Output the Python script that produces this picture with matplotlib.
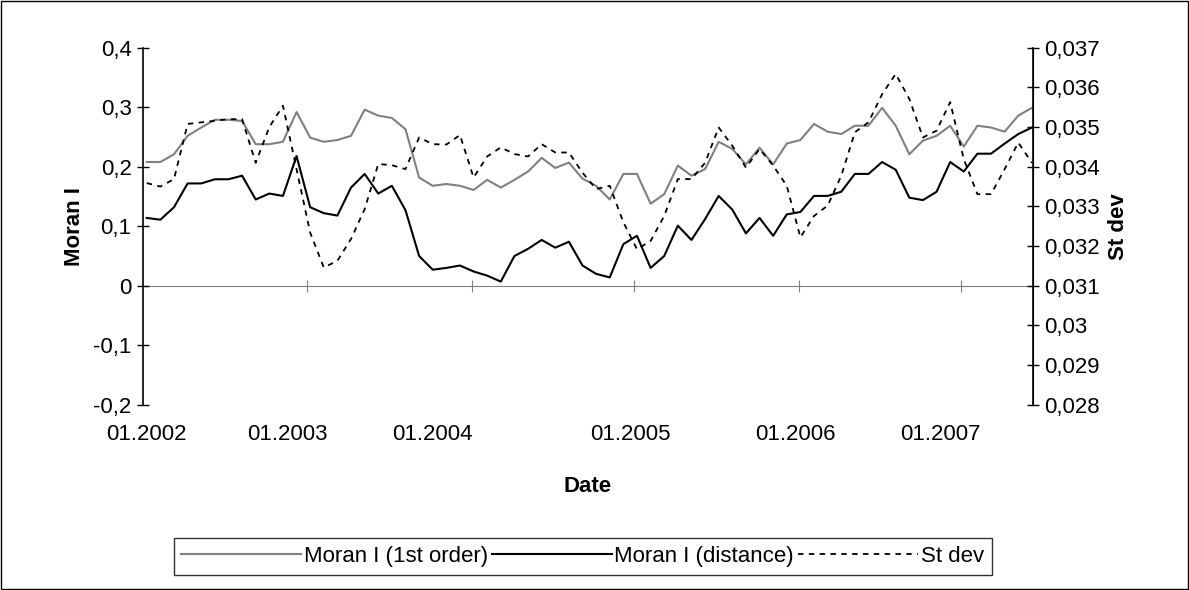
import numpy as np
import matplotlib
matplotlib.use("Agg")
import matplotlib.pyplot as plt
from matplotlib.ticker import FuncFormatter, FixedLocator

plt.rcParams['font.family'] = ['Liberation Sans', 'DejaVu Sans']

# monthly values, 01.2002 .. 07.2007
moran_1st = [0.208, 0.208, 0.221, 0.252, 0.266, 0.279, 0.279, 0.277, 0.238, 0.238,
             0.242, 0.292, 0.249, 0.242, 0.245, 0.252, 0.296, 0.286, 0.282, 0.263,
             0.182, 0.168, 0.171, 0.168, 0.161, 0.178, 0.165, 0.178, 0.192, 0.215,
             0.198, 0.207, 0.180, 0.168, 0.145, 0.188, 0.188, 0.138, 0.154, 0.202,
             0.185, 0.196, 0.242, 0.230, 0.204, 0.232, 0.204, 0.239, 0.245, 0.272,
             0.259, 0.255, 0.269, 0.269, 0.299, 0.269, 0.221, 0.244, 0.252, 0.269,
             0.234, 0.269, 0.266, 0.259, 0.286, 0.299]
moran_dist = [0.114, 0.111, 0.132, 0.172, 0.172, 0.179, 0.179, 0.185, 0.145, 0.155,
              0.151, 0.218, 0.132, 0.122, 0.118, 0.165, 0.188, 0.155, 0.168, 0.127,
              0.050, 0.027, 0.030, 0.034, 0.024, 0.017, 0.007, 0.050, 0.062, 0.077,
              0.064, 0.074, 0.034, 0.020, 0.014, 0.070, 0.084, 0.030, 0.050, 0.101,
              0.077, 0.112, 0.151, 0.128, 0.088, 0.114, 0.084, 0.120, 0.124, 0.151,
              0.151, 0.158, 0.188, 0.188, 0.208, 0.195, 0.148, 0.144, 0.158, 0.208,
              0.192, 0.222, 0.222, 0.239, 0.255, 0.266]
st_dev = [0.03359, 0.03350, 0.03369, 0.03508, 0.03512, 0.03516, 0.03520, 0.03520, 0.03410, 0.03500,
          0.03554, 0.03394, 0.03234, 0.03146, 0.03163, 0.03218, 0.03293, 0.03407, 0.03404, 0.03394,
          0.03474, 0.03457, 0.03456, 0.03480, 0.03373, 0.03426, 0.03449, 0.03432, 0.03426, 0.03457,
          0.03436, 0.03436, 0.03385, 0.03344, 0.03352, 0.03260, 0.03192, 0.03213, 0.03276, 0.03369,
          0.03369, 0.03410, 0.03499, 0.03453, 0.03398, 0.03445, 0.03403, 0.03352, 0.03222, 0.03276,
          0.03302, 0.03377, 0.03487, 0.03512, 0.03583, 0.03634, 0.03571, 0.03474, 0.03491, 0.03563,
          0.03419, 0.03331, 0.03331, 0.03394, 0.03461, 0.03410]

year_labels = ["01.2002", "01.2003", "01.2004", "01.2005", "01.2006", "01.2007"]
label_pos = [0, 10.3, 21.0, 35.5, 47.6, 58.3]
tick_pos = [11.8, 23.9, 35.8, 47.9, 59.8]

x = np.arange(len(moran_1st))

def comma_fmt(v, p):
    if abs(v) < 1e-9:
        return "0"
    s = f"{v:.3f}".rstrip("0").rstrip(".")
    return s.replace(".", ",")

fig = plt.figure(figsize=(11.89, 5.9), dpi=100)
ax = fig.add_axes([0.120, 0.314, 0.749, 0.605])
ax2 = ax.twinx()

l1, = ax.plot(x, moran_1st, color="#808080", lw=1.5, label="Moran I (1st order)")
l2, = ax.plot(x, moran_dist, color="black", lw=1.5, label="Moran I (distance)")
l3, = ax2.plot(x, st_dev, color="black", lw=1.3, ls=(0, (3, 3)), label="St dev")

ax.set_xlim(-0.3, 65.1)
ax.set_ylim(-0.2, 0.4)
ax2.set_ylim(0.028, 0.037)
ax.set_yticks(np.arange(-0.2, 0.41, 0.1))
ax2.set_yticks(np.arange(0.028, 0.0371, 0.001))
ax.yaxis.set_major_formatter(FuncFormatter(comma_fmt))
ax2.yaxis.set_major_formatter(FuncFormatter(comma_fmt))

for a in (ax, ax2):
    a.spines['top'].set_visible(False)
    a.spines['bottom'].set_visible(False)
    a.tick_params(labelsize=16, direction='inout', length=9, width=1)
ax.spines['left'].set_linewidth(1.2)
ax2.spines['right'].set_linewidth(1.2)
ax2.spines['left'].set_visible(False)

ax.set_xticks(label_pos)
ax.set_xticklabels(year_labels)
ax.tick_params(axis='x', length=0, pad=14)

zero_ax = ax.secondary_xaxis(0, transform=ax.transData)
zero_ax.spines['bottom'].set_color("#808080")
zero_ax.xaxis.set_major_locator(FixedLocator(tick_pos))
zero_ax.tick_params(direction='inout', length=9, color="#808080", labelbottom=False)

ax.set_xlabel("Date", fontsize=16, fontweight='bold', labelpad=22)
ax.set_ylabel("Moran I", fontsize=16, fontweight='bold', labelpad=6)
ax2.set_ylabel("St dev", fontsize=16, fontweight='bold', labelpad=6)

leg = fig.legend(handles=[l1, l2, l3], loc='center', bbox_to_anchor=(0.49, 0.0565),
                 ncol=3, fontsize=16, frameon=True, fancybox=False, edgecolor='black',
                 handlelength=5.4, handletextpad=0.1, columnspacing=0.2, borderpad=0.35,
                 borderaxespad=0)
leg.get_frame().set_linewidth(1)

fig.patches.append(plt.Rectangle((0.001, 0.001), 0.998, 0.998, transform=fig.transFigure,
                                 fill=False, edgecolor='black', lw=1))
fig.savefig("out.png", dpi=100)
